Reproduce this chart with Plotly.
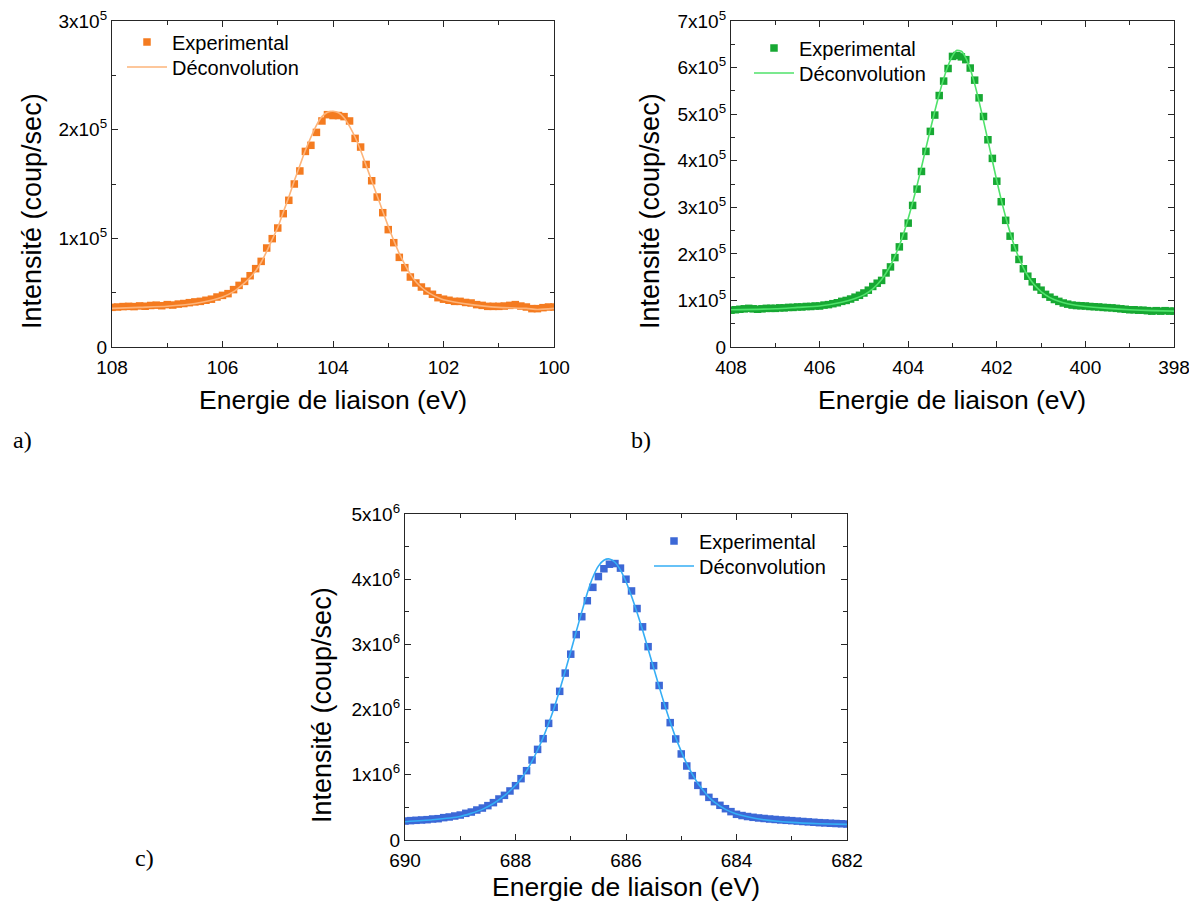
import plotly.graph_objects as go

# ---------------- DATA ----------------
# Panel a)  (Energie de liaison in eV, intensity in coup/sec)
energy_a = [108.0, 107.9, 107.8, 107.7, 107.6, 107.5, 107.4, 107.3, 107.2, 107.1,
            107.0, 106.9, 106.8, 106.7, 106.6, 106.5, 106.4, 106.3, 106.2, 106.1,
            106.0, 105.9, 105.8, 105.7, 105.6, 105.5, 105.4, 105.3, 105.2, 105.1,
            105.0, 104.9, 104.8, 104.7, 104.6, 104.5, 104.4, 104.3, 104.2, 104.1,
            104.0, 103.9, 103.8, 103.7, 103.6, 103.5, 103.4, 103.3, 103.2, 103.1,
            103.0, 102.9, 102.8, 102.7, 102.6, 102.5, 102.4, 102.3, 102.2, 102.1,
            102.0, 101.9, 101.8, 101.7, 101.6, 101.5, 101.4, 101.3, 101.2, 101.1,
            101.0, 100.9, 100.8, 100.7, 100.6, 100.5, 100.4, 100.3, 100.2, 100.1, 100.0]
exp_a = [36500, 36800, 37200, 37400, 37200, 37800, 37500, 38200, 38500, 38000,
         39000, 38600, 39500, 40000, 40800, 41500, 42000, 43000, 44000, 46000,
         47500, 49100, 52800, 56700, 60400, 65600, 72100, 78800, 91100, 99700,
         109500, 122700, 135000, 150000, 162000, 180000, 185600, 197500, 208000, 213800,
         213000, 213000, 212000, 208000, 192000, 184000, 168000, 153000, 138000, 123600,
         108000, 96000, 82500, 73000, 64400, 58900, 55200, 51500, 48500, 45400,
         44000, 43000, 42000, 42000, 41000, 40500, 39000, 38300, 37400, 37400,
         37400, 37700, 38300, 39000, 37700, 36800, 35300, 35300, 36200, 36800, 36800]
fit_energy_a = [108.0, 107.5, 107.0, 106.5, 106.2, 106.0, 105.8, 105.6, 105.5, 105.4,
                105.3, 105.2, 105.1, 105.0, 104.9, 104.8, 104.7, 104.6, 104.5, 104.4,
                104.3, 104.2, 104.1, 104.0, 103.9, 103.8, 103.7, 103.6, 103.5, 103.4,
                103.3, 103.2, 103.1, 103.0, 102.9, 102.8, 102.7, 102.6, 102.5, 102.4,
                102.3, 102.2, 102.1, 102.0, 101.5, 101.0, 100.5, 100.3, 100.0]
fit_a = [35500, 36500, 37500, 40000, 43000, 46000, 51000, 59000, 64000, 70000,
         78000, 88000, 99000, 110000, 124000, 138000, 153000, 167000, 181000, 193000,
         204000, 212000, 216000, 217000, 215500, 211000, 203000, 193000, 181000, 167000,
         153000, 139000, 125000, 111000, 98000, 86000, 76000, 67000, 60000, 55000,
         51000, 48000, 45500, 43500, 39000, 36500, 35500, 34500, 35500]

# Panel b)
energy_b = [408.0, 407.9, 407.8, 407.7, 407.6, 407.5, 407.4, 407.3, 407.2, 407.1,
            407.0, 406.9, 406.8, 406.7, 406.6, 406.5, 406.4, 406.3, 406.2, 406.1,
            406.0, 405.9, 405.8, 405.7, 405.6, 405.5, 405.4, 405.3, 405.2, 405.1,
            405.0, 404.9, 404.8, 404.7, 404.6, 404.5, 404.4, 404.3, 404.2, 404.1,
            404.0, 403.9, 403.8, 403.7, 403.6, 403.5, 403.4, 403.3, 403.2, 403.1,
            403.0, 402.9, 402.8, 402.7, 402.6, 402.5, 402.4, 402.3, 402.2, 402.1,
            402.0, 401.9, 401.8, 401.7, 401.6, 401.5, 401.4, 401.3, 401.2, 401.1,
            401.0, 400.9, 400.8, 400.7, 400.6, 400.5, 400.4, 400.3, 400.2, 400.1,
            400.0, 399.9, 399.8, 399.7, 399.6, 399.5, 399.4, 399.3, 399.2, 399.1,
            399.0, 398.9, 398.8, 398.7, 398.6, 398.5, 398.4, 398.3, 398.2, 398.1, 398.0]
exp_b = [79000, 80000, 81000, 82000, 83000, 82000, 81000, 82000, 83000, 83000,
         83000, 84000, 84000, 85000, 85000, 86000, 86000, 87000, 87000, 88000,
         88000, 90000, 91000, 93000, 95000, 98000, 100000, 103000, 107000, 111000,
         116000, 122000, 130000, 137000, 143000, 159000, 172000, 192000, 215000, 238000,
         266000, 304000, 339000, 377000, 420000, 463000, 498000, 540000, 571000, 598000,
         624000, 626000, 623000, 617000, 599000, 573000, 535000, 495000, 445000, 405000,
         356000, 312000, 272000, 238000, 213000, 188000, 168000, 152000, 140000, 129000,
         122000, 113000, 107000, 102000, 98000, 94500, 92000, 90000, 89000, 88500,
         88000, 87000, 86500, 86000, 85000, 84500, 84000, 83000, 82000, 81000,
         80000, 80000, 79000, 79000, 78000, 77000, 78000, 77000, 78000, 77000, 77000]
fit_energy_b = [408.0, 407.0, 406.5, 406.0, 405.5, 405.2, 405.0, 404.8, 404.6, 404.4,
                404.3, 404.2, 404.1, 404.0, 403.9, 403.8, 403.7, 403.6, 403.5, 403.4,
                403.3, 403.2, 403.1, 403.0, 402.9, 402.8, 402.7, 402.6, 402.5, 402.4,
                402.3, 402.2, 402.1, 402.0, 401.9, 401.8, 401.7, 401.6, 401.5, 401.4,
                401.3, 401.2, 401.1, 401.0, 400.8, 400.6, 400.4, 400.0, 399.5, 399.0,
                398.5, 398.0]
fit_b = [80000, 82000, 85000, 88000, 96000, 104000, 112000, 125000, 145000, 175000,
         195000, 218000, 245000, 276000, 310000, 347000, 386000, 427000, 467000, 506000,
         543000, 576000, 604000, 625000, 637000, 635000, 621000, 597000, 565000, 527000,
         486000, 443000, 400000, 357000, 316000, 279000, 246000, 216000, 191000, 170000,
         153000, 139000, 128000, 119000, 106000, 98000, 93000, 87000, 83000, 80000,
         78000, 77000]

# Panel c)
energy_c = [690.0, 689.9, 689.8, 689.7, 689.6, 689.5, 689.4, 689.3, 689.2, 689.1,
            689.0, 688.9, 688.8, 688.7, 688.6, 688.5, 688.4, 688.3, 688.2, 688.1,
            688.0, 687.9, 687.8, 687.7, 687.6, 687.5, 687.4, 687.3, 687.2, 687.1,
            687.0, 686.9, 686.8, 686.7, 686.6, 686.5, 686.4, 686.3, 686.2, 686.1,
            686.0, 685.9, 685.8, 685.7, 685.6, 685.5, 685.4, 685.3, 685.2, 685.1,
            685.0, 684.9, 684.8, 684.7, 684.6, 684.5, 684.4, 684.3, 684.2, 684.1,
            684.0, 683.9, 683.8, 683.7, 683.6, 683.5, 683.4, 683.3, 683.2, 683.1,
            683.0, 682.9, 682.8, 682.7, 682.6, 682.5, 682.4, 682.3, 682.2, 682.1, 682.0]
exp_c = [291000, 297000, 302000, 307000, 312000, 322000, 327000, 343000, 353000, 368000,
         383000, 409000, 429000, 460000, 490000, 527000, 573000, 629000, 685000, 752000,
         833000, 941000, 1063000, 1227000, 1390000, 1554000, 1789000, 2035000, 2280000, 2560000,
         2850000, 3150000, 3425000, 3670000, 3875000, 4040000, 4160000, 4230000, 4240000, 4170000,
         4000000, 3820000, 3550000, 3270000, 2965000, 2674000, 2370000, 2060000, 1800000, 1550000,
         1320000, 1135000, 987000, 838000, 741000, 654000, 588000, 532000, 480000, 435000,
         394000, 375000, 360000, 348000, 338000, 330000, 322000, 315000, 308000, 302000,
         297000, 290000, 284000, 278000, 272000, 266000, 262000, 257000, 253000, 249000, 245000]
fit_energy_c = [690.0, 689.5, 689.0, 688.8, 688.6, 688.4, 688.2, 688.0, 687.9, 687.8,
                687.7, 687.6, 687.5, 687.4, 687.3, 687.2, 687.1, 687.0, 686.9, 686.8,
                686.7, 686.6, 686.5, 686.4, 686.3, 686.2, 686.1, 686.0, 685.9, 685.8,
                685.7, 685.6, 685.5, 685.4, 685.3, 685.2, 685.1, 685.0, 684.9, 684.8,
                684.7, 684.6, 684.5, 684.4, 684.2, 684.0, 683.5, 683.0, 682.5, 682.0]
fit_c = [280000, 310000, 360000, 410000, 470000, 560000, 680000, 840000, 940000, 1060000,
         1210000, 1380000, 1570000, 1790000, 2030000, 2300000, 2590000, 2890000, 3200000, 3500000,
         3790000, 4030000, 4200000, 4290000, 4310000, 4260000, 4140000, 3960000, 3740000, 3490000,
         3220000, 2930000, 2640000, 2350000, 2070000, 1810000, 1570000, 1360000, 1170000, 1010000,
         870000, 760000, 660000, 580000, 470000, 400000, 310000, 270000, 250000, 240000]

# Tick labels
ytick_vals_a = [0, 100000, 200000, 300000]
ytick_text_a = ["0", "1x10<sup>5</sup>", "2x10<sup>5</sup>", "3x10<sup>5</sup>"]
ytick_vals_b = [0, 100000, 200000, 300000, 400000, 500000, 600000, 700000]
ytick_text_b = ["0", "1x10<sup>5</sup>", "2x10<sup>5</sup>", "3x10<sup>5</sup>",
                "4x10<sup>5</sup>", "5x10<sup>5</sup>", "6x10<sup>5</sup>", "7x10<sup>5</sup>"]
ytick_vals_c = [0, 1000000, 2000000, 3000000, 4000000, 5000000]
ytick_text_c = ["0", "1x10<sup>6</sup>", "2x10<sup>6</sup>", "3x10<sup>6</sup>",
                "4x10<sup>6</sup>", "5x10<sup>6</sup>"]

# ---------------- LAYOUT ----------------
# page has an 8px body margin: figure origin sits at (8, 8) of the window
OFF = 8
W, H = 1197 - OFF, 909 - OFF
def px(x):
    return (x - OFF) / W
def py(y):
    return 1 - (y - OFF) / H

FONT = "Liberation Sans, Arial, Helvetica, sans-serif"
SERIF = "Liberation Serif, Times New Roman, serif"
AXC = "#262626"

fig = go.Figure()

# (text start x, centre y of "Experimental", centre y of "Déconvolution")
leg_pos = [(172, 42, 67), (799, 48, 73), (699, 541, 566)]

panels = [
    dict(x=energy_a, y=exp_a, fx=fit_energy_a, fy=fit_a, mc="#F47B20", lc="#FDB47A",
         xa="x", ya="y"),
    dict(x=energy_b, y=exp_b, fx=fit_energy_b, fy=fit_b, mc="#17A833", lc="#4FE26A",
         xa="x2", ya="y2"),
    dict(x=energy_c, y=exp_c, fx=fit_energy_c, fy=fit_c, mc="#3C68D6", lc="#35AEF5",
         xa="x3", ya="y3"),
]
legends = {}
n = 0
for i, p in enumerate(panels):
    tx, ye, yd = leg_pos[i]
    n += 1
    le = "legend" if n == 1 else f"legend{n}"
    n += 1
    ld = f"legend{n}"
    for name, yc in ((le, ye), (ld, yd)):
        legends[name] = dict(x=px(tx - 50), y=py(yc), xanchor="left", yanchor="middle",
                             bgcolor="rgba(0,0,0,0)", borderwidth=0, itemwidth=40,
                             font=dict(family=FONT, size=20, color="black"))
    fig.add_trace(go.Scatter(x=p["x"], y=p["y"], mode="markers", name="Experimental",
                             marker=dict(symbol="square", size=7.5, color=p["mc"]),
                             xaxis=p["xa"], yaxis=p["ya"], legend=le))
    fig.add_trace(go.Scatter(x=p["fx"], y=p["fy"], mode="lines", name="Déconvolution",
                             line=dict(color=p["lc"], width=1.6, shape="spline", smoothing=0.6),
                             xaxis=p["xa"], yaxis=p["ya"], legend=ld))

def xaxis(dom, rng, anchor):
    return dict(domain=dom, range=rng, anchor=anchor, dtick=2, tick0=0, automargin=False,
                showline=True, linecolor=AXC, linewidth=1.3, mirror="allticks",
                ticks="inside", ticklen=6, tickwidth=1.2, tickcolor=AXC, ticklabelstandoff=3,
                ticklabeloverflow="allow",
                minor=dict(dtick=1, ticks="inside", ticklen=4, tickwidth=1.2, tickcolor=AXC),
                showgrid=False, zeroline=False,
                tickfont=dict(family=FONT, size=19, color="black"))

def yaxis(dom, rng, anchor, tv, tt, minor_dt):
    return dict(domain=dom, range=rng, anchor=anchor, tickvals=tv, ticktext=tt, automargin=False,
                showline=True, linecolor=AXC, linewidth=1.3, mirror="allticks",
                ticks="inside", ticklen=6, tickwidth=1.2, tickcolor=AXC,
                ticklabeloverflow="allow",
                minor=dict(dtick=minor_dt, tick0=0, ticks="inside", ticklen=4, tickwidth=1.2, tickcolor=AXC),
                showgrid=False, zeroline=False,
                tickfont=dict(family=FONT, size=19, color="black"))

A = dict(l=112, r=554, t=21, b=347)
B = dict(l=731, r=1174, t=21, b=347)
C = dict(l=405, r=847, t=514, b=840)

fig.update_layout(
    width=W, height=H, margin=dict(l=0, r=0, t=0, b=0, pad=0, autoexpand=False),
    paper_bgcolor="white", plot_bgcolor="white",
    font=dict(family=FONT, color="black"),
    xaxis=xaxis([px(A["l"]), px(A["r"])], [108, 100], "y"),
    yaxis=yaxis([py(A["b"]), py(A["t"])], [0, 300000], "x", ytick_vals_a, ytick_text_a, 50000),
    xaxis2=xaxis([px(B["l"]), px(B["r"])], [408, 398], "y2"),
    yaxis2=yaxis([py(B["b"]), py(B["t"])], [0, 700000], "x2", ytick_vals_b, ytick_text_b, 50000),
    xaxis3=xaxis([px(C["l"]), px(C["r"])], [690, 682], "y3"),
    yaxis3=yaxis([py(C["b"]), py(C["t"])], [0, 5000000], "x3", ytick_vals_c, ytick_text_c, 500000),
    showlegend=True,
    **legends,
)

annots = [
    ("Energie de liaison (eV)", 333, 400, 0, FONT, 26.5),
    ("Energie de liaison (eV)", 952, 400, 0, FONT, 26.5),
    ("Energie de liaison (eV)", 626, 887, 0, FONT, 26.5),
    ("Intensité (coup/sec)", 32, 211, -90, FONT, 27),
    ("Intensité (coup/sec)", 650, 211, -90, FONT, 27),
    ("Intensité (coup/sec)", 322, 705, -90, FONT, 27),
    ("a)", 22, 440, 0, SERIF, 24),
    ("b)", 641, 440, 0, SERIF, 24),
    ("c)", 144, 858, 0, SERIF, 24),
]
for text, x, y, ang, fam, sz in annots:
    fig.add_annotation(text=text, x=px(x), y=py(y), xref="paper", yref="paper",
                       xanchor="center", yanchor="middle", showarrow=False, textangle=ang,
                       font=dict(family=fam, size=sz, color="black"))

fig.write_html("out.html")
